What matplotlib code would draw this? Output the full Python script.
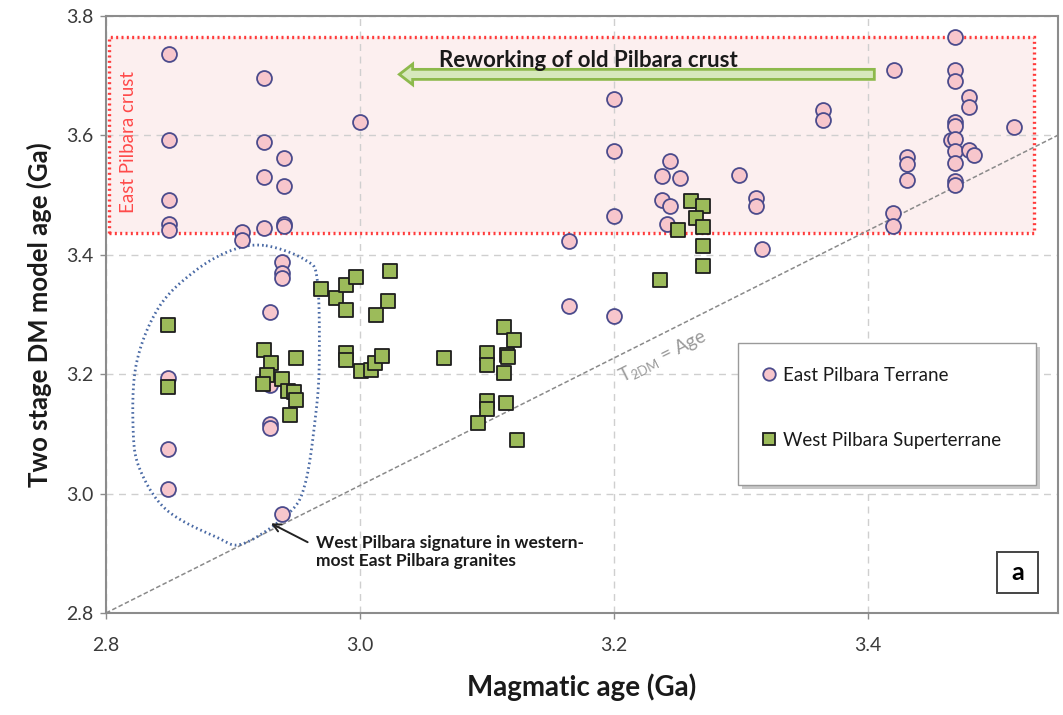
import numpy as np
import matplotlib
matplotlib.use("Agg")
import matplotlib.pyplot as plt
from matplotlib.patches import Rectangle, FancyArrow
from matplotlib.lines import Line2D

plt.rcParams['font.family'] = ['Lato', 'DejaVu Sans']

# ---------------- data ----------------
east_x = [2.850, 2.9245, 3.000, 2.850, 2.9245, 2.940, 2.9245, 2.940, 2.850, 2.850,
          2.850, 2.907, 2.907, 2.9245, 2.940, 2.940, 2.939, 2.939, 2.939, 2.929,
          2.849, 2.929, 2.929, 2.929, 2.849, 2.849, 2.939, 3.1645, 3.1645, 3.200,
          3.200, 3.200, 3.200, 3.365, 3.365, 3.244, 3.238, 3.252, 3.299, 3.238,
          3.244, 3.312, 3.312, 3.242, 3.317, 3.469, 3.421, 3.469, 3.469, 3.480,
          3.480, 3.469, 3.469, 3.515, 3.466, 3.469, 3.469, 3.480, 3.484, 3.469,
          3.431, 3.431, 3.431, 3.469, 3.469, 3.420, 3.420]
east_y = [3.736, 3.696, 3.622, 3.592, 3.588, 3.562, 3.530, 3.515, 3.491, 3.451,
          3.441, 3.438, 3.424, 3.444, 3.452, 3.448, 3.387, 3.370, 3.361, 3.304,
          3.194, 3.181, 3.116, 3.110, 3.074, 3.007, 2.965, 3.423, 3.314, 3.297,
          3.660, 3.574, 3.465, 3.642, 3.625, 3.557, 3.531, 3.529, 3.533, 3.492,
          3.481, 3.494, 3.482, 3.451, 3.409, 3.765, 3.709, 3.709, 3.691, 3.664,
          3.647, 3.622, 3.615, 3.614, 3.592, 3.593, 3.573, 3.576, 3.567, 3.553,
          3.564, 3.551, 3.525, 3.524, 3.516, 3.469, 3.448]

west_x = [2.849, 2.849, 2.9245, 2.930, 2.950, 2.927, 2.924, 2.939, 2.943, 2.948,
          2.950, 2.945, 2.969, 2.981, 2.989, 2.997, 2.989, 3.0235, 3.0225, 3.013,
          2.989, 2.989, 3.001, 3.009, 3.012, 3.0175, 3.066, 3.100, 3.100, 3.1135,
          3.1216, 3.116, 3.117, 3.1135, 3.100, 3.100, 3.115, 3.093, 3.124, 3.2606,
          3.270, 3.2646, 3.270, 3.251, 3.270, 3.270, 3.2366]
west_y = [3.282, 3.179, 3.240, 3.218, 3.227, 3.198, 3.184, 3.191, 3.172, 3.170,
          3.157, 3.131, 3.342, 3.327, 3.349, 3.362, 3.308, 3.373, 3.323, 3.299,
          3.236, 3.223, 3.205, 3.207, 3.218, 3.231, 3.227, 3.236, 3.216, 3.278,
          3.257, 3.232, 3.228, 3.202, 3.155, 3.142, 3.152, 3.118, 3.090, 3.490,
          3.482, 3.462, 3.447, 3.442, 3.415, 3.381, 3.358]

x_ticks = [2.8, 3.0, 3.2, 3.4]
y_ticks = [2.8, 3.0, 3.2, 3.4, 3.6, 3.8]
x_tick_labels = ['2.8', '3.0', '3.2', '3.4']
y_tick_labels = ['2.8', '3.0', '3.2', '3.4', '3.6', '3.8']

# ---------------- figure ----------------
fig = plt.figure(figsize=(10.63, 7.15), dpi=100)
ax = fig.add_axes([0.0997, 0.1427, 0.8956, 0.8353])
ax.set_xlim(2.8, 3.55)
ax.set_ylim(2.8, 3.8)

# East Pilbara crust box
ax.add_patch(Rectangle((2.8026, 3.437), 3.531 - 2.8026, 3.764 - 3.437,
                       facecolor='#FCEFEF', edgecolor='none', zorder=0.5))
ax.add_patch(Rectangle((2.8026, 3.437), 3.531 - 2.8026, 3.764 - 3.437,
                       facecolor='none', edgecolor='#FF3B3B', lw=2.4,
                       linestyle=(0, (0.6, 1.0)), zorder=1.5))
ax.text(2.8175, 3.588, 'East Pilbara crust', rotation=90, color='#FF4A4A',
        fontsize=13.5, ha='center', va='center', zorder=3)

# grid
ax.set_xticks(x_ticks)
ax.set_yticks(y_ticks)
ax.set_xticklabels(x_tick_labels)
ax.set_yticklabels(y_tick_labels)
ax.grid(True, color='#CFCFCF', linestyle=(0, (5, 4)), lw=1.0, zorder=0.8)
ax.set_axisbelow(True)

# T2DM = Age line
ax.plot([2.8, 3.55], [2.8, 3.60], color='#8A8A8A', lw=1.1,
        linestyle=(0, (3, 1.6)), zorder=1.6)
ax.text(3.2385, 3.228, r'T$_{\mathregular{2DM}}$ = Age', rotation=26.5,
        color='#9A9A9A', fontsize=13.5, ha='center', va='center', zorder=1.7,
        rotation_mode='anchor')

# dotted outline around western-most East Pilbara granites
bx = np.array([2.926, 2.957, 2.9665, 2.968, 2.965, 2.957, 2.944, 2.908, 2.887,
               2.848, 2.827, 2.8214, 2.824, 2.842, 2.871, 2.900])
by = np.array([3.415, 3.391, 3.357, 3.218, 3.128, 3.017, 2.967, 2.916, 2.927,
               2.972, 3.039, 3.106, 3.218, 3.313, 3.374, 3.408])


def closed_spline(px, py, n=20):
    P = np.column_stack([px, py])
    m = len(P)
    out = []
    for i in range(m):
        p0, p1, p2, p3 = P[(i - 1) % m], P[i], P[(i + 1) % m], P[(i + 2) % m]
        t = np.linspace(0, 1, n, endpoint=False)[:, None]
        seg = 0.5 * ((2 * p1) + (-p0 + p2) * t + (2 * p0 - 5 * p1 + 4 * p2 - p3) * t ** 2
                     + (-p0 + 3 * p1 - 3 * p2 + p3) * t ** 3)
        out.append(seg)
    out = np.vstack(out + [P[:1]])
    return out[:, 0], out[:, 1]


sx, sy = closed_spline(bx, by)
ax.plot(sx, sy, color='#4A6AA5', lw=2.0, linestyle=(0, (0.6, 1.1)), zorder=1.8)

# data points
ax.scatter(east_x, east_y, s=115, marker='o', facecolor='#F7C6CC',
           edgecolor='#4B4B8C', linewidths=1.3, zorder=4)
ax.scatter(west_x, west_y, s=95, marker='s', facecolor='#9CBB5A',
           edgecolor='#1E1E1E', linewidths=1.3, zorder=5)

# reworking arrow
ax.add_patch(FancyArrow(3.4053, 3.7018, 3.0311 - 3.4053, 0, width=0.0168,
                        head_width=0.0345, head_length=0.0105,
                        length_includes_head=True, facecolor='#D6E8BC',
                        edgecolor='#8DB94C', lw=2.0, zorder=3))
ax.text(3.180, 3.7146, 'Reworking of old Pilbara crust', fontsize=16,
        fontweight='bold', ha='center', va='baseline', color='#1A1A1A', zorder=6)

# annotation
ax.annotate('West Pilbara signature in western-\nmost East Pilbara granites',
            xy=(2.930, 2.950), xytext=(2.9652, 2.931),
            fontsize=12.5, fontweight='bold', ha='left', va='top',
            color='#1A1A1A', linespacing=1.15,
            arrowprops=dict(arrowstyle='->', color='#222222', lw=1.4,
                            shrinkA=0, shrinkB=0, mutation_scale=14,
                            relpos=(-0.03, 0.78)),
            zorder=6)

# legend frame (with shadow)
ax.add_patch(Rectangle((0.668, 0.207), 0.313, 0.238, transform=ax.transAxes,
                       facecolor='#C8C8C8', edgecolor='none', zorder=6))
ax.add_patch(Rectangle((0.664, 0.214), 0.313, 0.238, transform=ax.transAxes,
                       facecolor='white', edgecolor='#9A9A9A', lw=1.0, zorder=6.5))
handles = [Line2D([], [], marker='o', linestyle='none', markersize=9,
                  markerfacecolor='#F7C6CC', markeredgecolor='#4B4B8C',
                  markeredgewidth=1.3),
           Line2D([], [], marker='s', linestyle='none', markersize=8,
                  markerfacecolor='#9CBB5A', markeredgecolor='#1E1E1E',
                  markeredgewidth=1.3)]
leg = ax.legend(handles, ['East Pilbara Terrane', 'West Pilbara Superterrane'],
                loc='upper left', bbox_to_anchor=(0.687, 0.412), frameon=False,
                fontsize=13.5, handlelength=1.0, handletextpad=0.25,
                labelspacing=2.55, borderpad=0, borderaxespad=0)
leg.set_zorder(7)
for t in leg.get_texts():
    t.set_color('#1A1A1A')

# panel label "a"
ax.add_patch(Rectangle((0.9356, 0.033), 0.0437, 0.0696, transform=ax.transAxes,
                       facecolor='white', edgecolor='#444444', lw=1.4, zorder=6))
ax.text(0.9575, 0.068, 'a', transform=ax.transAxes, fontsize=18,
        fontweight='bold', ha='center', va='center', zorder=7)

# axes styling
for sp in ax.spines.values():
    sp.set_color('#8C8C8C')
    sp.set_linewidth(1.5)
ax.tick_params(axis='both', colors='#8C8C8C', labelcolor='#3A3A3A',
               labelsize=14, length=4, width=1)
ax.tick_params(axis='x', pad=13)
ax.tick_params(axis='y', pad=5)

ax.set_xlabel('Magmatic age (Ga)', fontsize=20, fontweight='bold',
              color='#1A1A1A', labelpad=14)
ax.set_ylabel('Two stage DM model age (Ga)', fontsize=18.5, fontweight='bold',
              color='#1A1A1A', labelpad=10)

fig.savefig('out.png', dpi=100)
